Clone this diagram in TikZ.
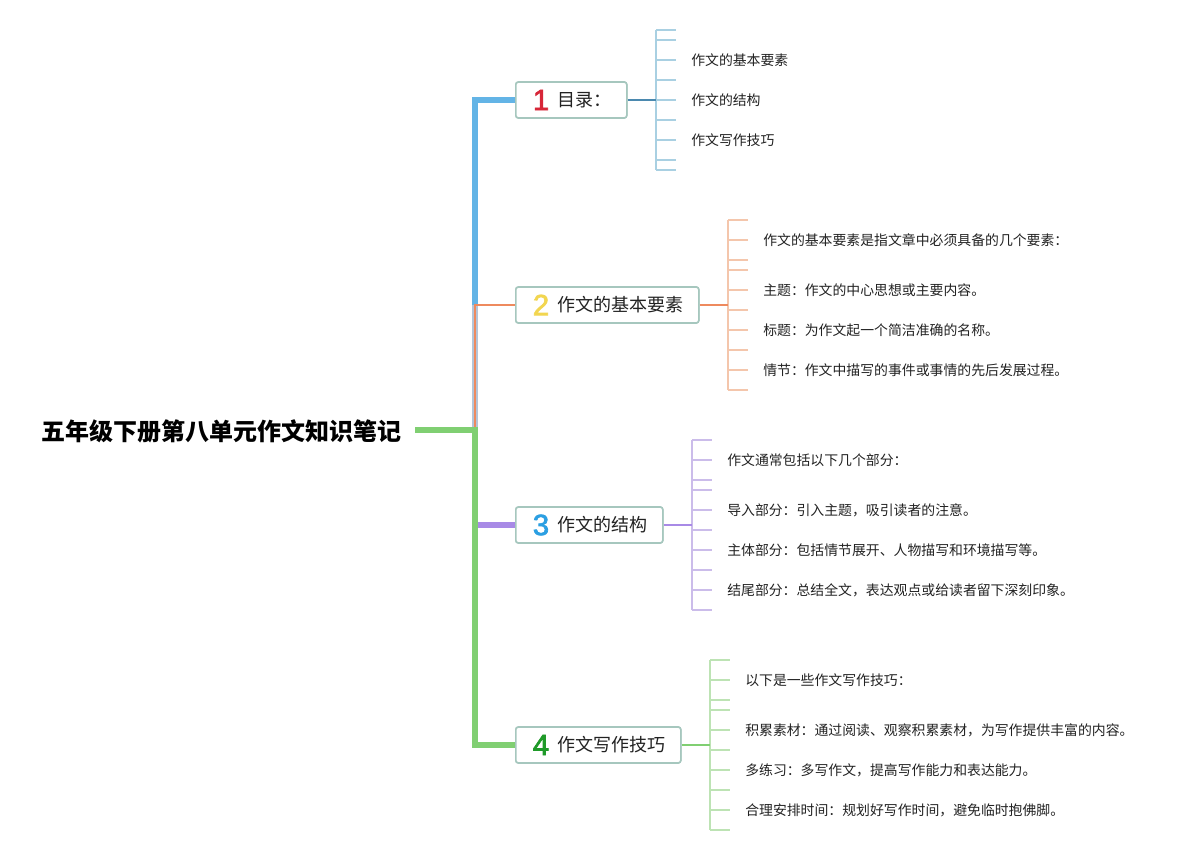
\documentclass[tikz,border=0pt]{standalone}
\usepackage{fontspec}
\setmainfont{Noto Sans CJK SC}
\newfontfamily\cjk{Noto Sans CJK SC}
\newfontfamily\numfont{Liberation Sans}[FakeBold=2.2]
\definecolor{cblue}{HTML}{63B4E6}
\definecolor{cblueg}{HTML}{B4C4D8}
\definecolor{corange}{HTML}{EE8A5E}
\definecolor{cpurple}{HTML}{A88AE6}
\definecolor{cgreen}{HTML}{80CF72}
\definecolor{lblue}{HTML}{A9D0E2}
\definecolor{lorange}{HTML}{F4C6AC}
\definecolor{lpurple}{HTML}{CBBCEA}
\definecolor{lgreen}{HTML}{BDE3B4}
\definecolor{boxline}{HTML}{A6C7BE}
\definecolor{nred}{HTML}{D72638}
\definecolor{nyellow}{HTML}{F2D650}
\definecolor{nblue}{HTML}{2B9FE2}
\definecolor{ngreen}{HTML}{1F9A29}
\definecolor{txt}{HTML}{222222}
\begin{document}
\begin{tikzpicture}[x=0.75pt,y=-0.75pt,
  topic/.style={draw=boxline,line width=1.2pt,rounded corners=2pt,fill=white,
    minimum height=27pt,inner xsep=0pt,anchor=west},
  topictext/.style={anchor=west,inner sep=0pt,font=\fontsize{13.5}{15}\selectfont,text=txt},
  leaf/.style={anchor=west,inner sep=0pt,font=\fontsize{10.4}{12}\selectfont,text=txt},
  num/.style={inner sep=0pt,font=\numfont\fontsize{22}{22}\selectfont}]
\useasboundingbox (0,0) rectangle (1197,860);
% root
\node[font=\bfseries\fontsize{18}{20}\selectfont,text=black,anchor=center] (root) at (221,431) {五年级下册第八单元作文知识笔记};
\coordinate (j) at (475,430);
\coordinate (t2) at (475,305);
\coordinate (rs) at (415,430);
\coordinate (gtop) at (475,427.2);
% topic boxes
\node[topic,minimum width=83.25pt] (b1) at (515,100) {};
\node[topic,minimum width=137.25pt] (b2) at (515,305) {};
\node[topic,minimum width=110.25pt] (b3) at (515,525) {};
\node[topic,minimum width=123.75pt] (b4) at (515,745) {};
% trunk
\draw[cblue,line width=3.8pt] (t2) |- (b1.west);
\draw[cblueg,line width=3.8pt] (j) -- (t2);
\draw[corange,line width=1.6pt] (j) |- (b2.west);
\draw[cpurple,line width=3.8pt] (j) |- (b3.west);
\draw[cgreen,line width=4.4pt] (rs) -- (j);
\draw[cgreen,line width=4.4pt] (gtop) |- (b4.west);
% redraw boxes on top
\node[topic,minimum width=83.25pt] at (515,100) {};
\node[topic,minimum width=137.25pt] at (515,305) {};
\node[topic,minimum width=110.25pt] at (515,525) {};
\node[topic,minimum width=123.75pt] at (515,745) {};
% box contents
\node[num,text=nred] (n1) at (541,100) {1};
\node[topictext] (t1) at (557,100) {目录：};
\node[num,text=nyellow] (n2) at (541,305) {2};
\node[topictext] (tt2) at (557,305) {作文的基本要素};
\node[num,text=nblue] (n3) at (541,525) {3};
\node[topictext] (tt3) at (557,525) {作文的结构};
\node[num,text=ngreen] (n4) at (541,745) {4};
\node[topictext] (tt4) at (557,745) {作文写作技巧};
% brackets
\coordinate (k1) at (656,100);
\coordinate (k2) at (728,305);
\coordinate (k3) at (692,525);
\coordinate (k4) at (710,745);
\draw[lblue,line width=1pt] (656,30) -- (656,170);
\foreach \y in {30,40,60,80,100,120,140,160,170} \draw[lblue,line width=1pt] (656,\y) -- (676,\y);
\draw[lorange,line width=1pt] (728,220) -- (728,390);
\foreach \y in {220,240,260,270,290,310,330,350,370,390} \draw[lorange,line width=1pt] (728,\y) -- (748,\y);
\draw[lpurple,line width=1pt] (692,440) -- (692,610);
\foreach \y in {440,460,480,490,510,530,550,570,590,610} \draw[lpurple,line width=1pt] (692,\y) -- (712,\y);
\draw[lgreen,line width=1pt] (710,660) -- (710,830);
\foreach \y in {660,680,700,710,730,750,770,790,810,830} \draw[lgreen,line width=1pt] (710,\y) -- (730,\y);
\draw[cblue!70!black!80!cblue,line width=1.2pt] (b1.east) -- (k1);
\draw[corange,line width=1.2pt] (b2.east) -- (k2);
\draw[cpurple,line width=1.2pt] (b3.east) -- (k3);
\draw[cgreen,line width=1.2pt] (b4.east) -- (k4);
% leaves
\node[leaf] (l11) at (691,60) {作文的基本要素};
\node[leaf] (l12) at (691,100) {作文的结构};
\node[leaf] (l13) at (691,140) {作文写作技巧};
\node[leaf] (l21) at (763,240) {作文的基本要素是指文章中必须具备的几个要素：};
\node[leaf] (l22) at (763,290) {主题：作文的中心思想或主要内容。};
\node[leaf] (l23) at (763,330) {标题：为作文起一个简洁准确的名称。};
\node[leaf] (l24) at (763,370) {情节：作文中描写的事件或事情的先后发展过程。};
\node[leaf] (l31) at (727,460) {作文通常包括以下几个部分：};
\node[leaf] (l32) at (727,510) {导入部分：引入主题，吸引读者的注意。};
\node[leaf] (l33) at (727,550) {主体部分：包括情节展开、人物描写和环境描写等。};
\node[leaf] (l34) at (727,590) {结尾部分：总结全文，表达观点或给读者留下深刻印象。};
\node[leaf] (l41) at (745,680) {以下是一些作文写作技巧：};
\node[leaf] (l42) at (745,730) {积累素材：通过阅读、观察积累素材，为写作提供丰富的内容。};
\node[leaf] (l43) at (745,770) {多练习：多写作文，提高写作能力和表达能力。};
\node[leaf] (l44) at (745,810) {合理安排时间：规划好写作时间，避免临时抱佛脚。};
\end{tikzpicture}
\end{document}
